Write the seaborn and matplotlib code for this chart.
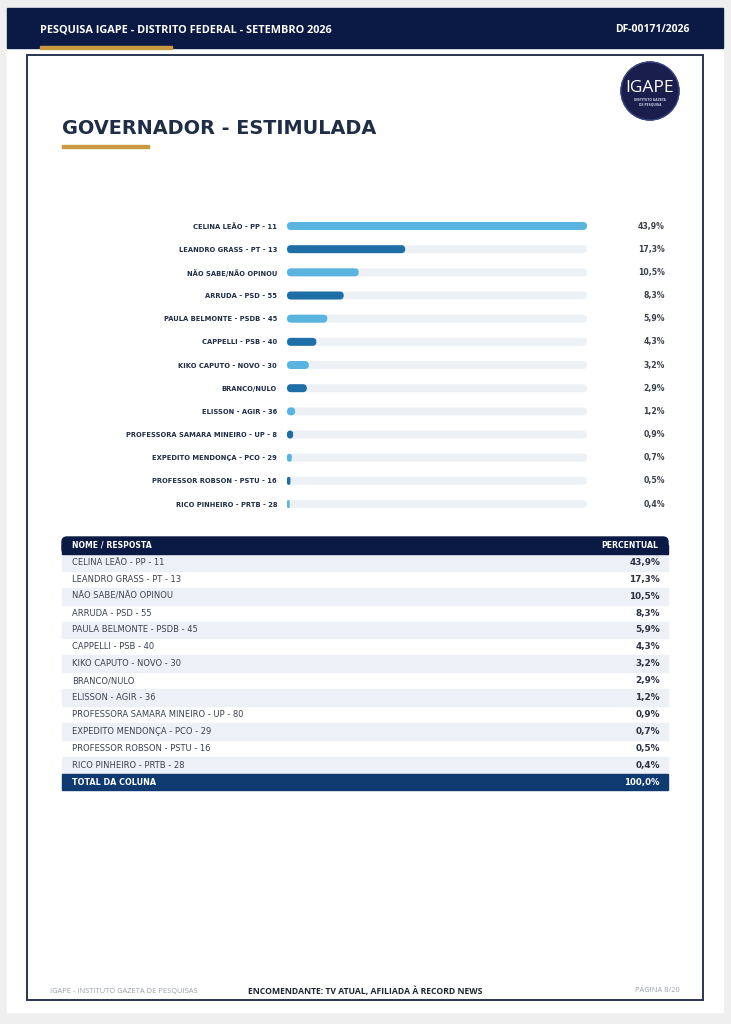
import pandas as pd
import seaborn as sns
import matplotlib.pyplot as plt
from matplotlib.patches import FancyBboxPatch, Rectangle, Circle
from matplotlib import transforms

# dados da pesquisa
nomes = ['CELINA LEÃO - PP - 11', 'LEANDRO GRASS - PT - 13', 'NÃO SABE/NÃO OPINOU',
         'ARRUDA - PSD - 55', 'PAULA BELMONTE - PSDB - 45', 'CAPPELLI - PSB - 40',
         'KIKO CAPUTO - NOVO - 30', 'BRANCO/NULO', 'ELISSON - AGIR - 36',
         'PROFESSORA SAMARA MINEIRO - UP - 8', 'EXPEDITO MENDONÇA - PCO - 29',
         'PROFESSOR ROBSON - PSTU - 16', 'RICO PINHEIRO - PRTB - 28']
nomes_tabela = ['CELINA LEÃO - PP - 11', 'LEANDRO GRASS - PT - 13', 'NÃO SABE/NÃO OPINOU',
                'ARRUDA - PSD - 55', 'PAULA BELMONTE - PSDB - 45', 'CAPPELLI - PSB - 40',
                'KIKO CAPUTO - NOVO - 30', 'BRANCO/NULO', 'ELISSON - AGIR - 36',
                'PROFESSORA SAMARA MINEIRO - UP - 80', 'EXPEDITO MENDONÇA - PCO - 29',
                'PROFESSOR ROBSON - PSTU - 16', 'RICO PINHEIRO - PRTB - 28']
percentual = [43.9, 17.3, 10.5, 8.3, 5.9, 4.3, 3.2, 2.9, 1.2, 0.9, 0.7, 0.5, 0.4]
total_coluna = 100.0

titulo = 'GOVERNADOR - ESTIMULADA'
cabecalho = 'PESQUISA IGAPE - DISTRITO FEDERAL - SETEMBRO 2026'
registro = 'DF-00171/2026'

# cores
NAVY = '#0b1a44'
AZUL_TOTAL = '#0f3a70'
AZUL_CLARO = '#5ab4e0'
AZUL_ESCURO = '#1e6ea8'
TRILHO = '#edf1f6'
LISTRA = '#edf1f7'
OURO = '#c99a3f'
TEXTO = '#1f2d45'


def fmt(v):
    return f'{v:.1f}%'.replace('.', ',')


sns.set_theme(style='white')
plt.rcParams['font.family'] = ['DejaVu Sans']

W, H = 731, 1024
fig = plt.figure(figsize=(W / 100, H / 100), dpi=100)
fig.patch.set_facecolor('#efefef')

# fundo em pixels
bg = fig.add_axes([0, 0, 1, 1])
bg.set_xlim(0, W)
bg.set_ylim(H, 0)
bg.axis('off')

bg.add_patch(Rectangle((7, 8), 716, 1004, color='white', zorder=0))
bg.add_patch(Rectangle((7, 8), 716, 40, color=NAVY, zorder=1))
bg.add_patch(Rectangle((40, 46), 132, 2.5, color=OURO, zorder=2))
bg.text(40, 30, cabecalho, color='white', fontsize=7.8, fontweight='bold',
        family='Open Sans', va='center', ha='left')
bg.text(690, 30, registro, color='white', fontsize=7.5, fontweight='bold',
        family='Open Sans', va='center', ha='right')

# moldura interna
bg.add_patch(Rectangle((27, 55), 676, 945, fill=False, edgecolor='#2a3555', lw=1.4, zorder=2))

# logo
bg.add_patch(Circle((650, 91), 29, color='#1a1e4d', zorder=3))
bg.add_patch(Circle((650, 91), 29, fill=False, edgecolor='#3b4a8a', lw=0.8, zorder=3))
bg.text(650, 88, 'IGAPE', color='white', fontsize=12.5, ha='center', va='center', zorder=4,
        family='Open Sans')
bg.text(650, 100, 'INSTITUTO GAZETA', color='#c8cce0', fontsize=2.2, ha='center',
        va='center', zorder=4, fontweight='bold')
bg.text(650, 104, 'DE PESQUISA', color='#c8cce0', fontsize=2.2, ha='center',
        va='center', zorder=4, fontweight='bold')

# titulo
bg.text(62, 128, titulo, color=TEXTO, fontsize=13.9, fontweight='bold', va='center', ha='left')
bg.add_patch(Rectangle((62, 144.5), 87, 3, color=OURO, zorder=2))

# grafico de barras
passo = 23.17
topo = 226 - passo / 2
n = len(nomes)
ax = fig.add_axes([287 / W, 1 - (topo + n * passo) / H, 300 / W, n * passo / H])
ax.patch.set_alpha(0)

df = pd.DataFrame({'nome': nomes, 'valor': percentual, 'trilho': max(percentual)})
cores = [AZUL_CLARO if i % 2 == 0 else AZUL_ESCURO for i in range(n)]
larg = 0.345
sns.barplot(data=df, x='trilho', y='nome', color=TRILHO, width=larg, ax=ax,
            saturation=1)
sns.barplot(data=df, x='valor', y='nome', hue='nome', palette=cores, legend=False,
            width=larg, ax=ax, saturation=1)
ax.set_xlim(0, max(percentual))
ax.set_ylim(n - 0.5, -0.5)
ax.set_xlabel('')
ax.set_ylabel('')
ax.set_xticks([])
sns.despine(ax=ax, left=True, bottom=True)
ax.tick_params(axis='y', length=0, pad=7.2, labelsize=4.9, labelcolor=TEXTO)
for t in ax.get_yticklabels():
    t.set_fontweight('bold')

# arredondar as pontas
ux = max(percentual) / 300
uy = 1 / passo
aspecto = uy / ux
for p in list(ax.patches):
    x, y, w, h = p.get_x(), p.get_y(), p.get_width(), p.get_height()
    if w <= 0:
        continue
    r = min(4 * ux, w / 2)
    novo = FancyBboxPatch((x, y), w, h, boxstyle=f'round,pad=0,rounding_size={r}',
                          mutation_aspect=aspecto, facecolor=p.get_facecolor(),
                          edgecolor='none', zorder=p.get_zorder())
    p.remove()
    ax.add_patch(novo)

trans = transforms.blended_transform_factory(fig.transFigure, ax.transData)
for i, v in enumerate(percentual):
    ax.text(665 / W, i, fmt(v), transform=trans, ha='right', va='center',
            fontsize=5.6, fontweight='bold', color='#3a3f4a', clip_on=False)

# tabela
tx0, tx1 = 62, 668
th0 = 537
alt = 16.9
bg.add_patch(FancyBboxPatch((tx0, th0), tx1 - tx0, alt, boxstyle='round,pad=0,rounding_size=5',
                            color=NAVY, zorder=2))
bg.add_patch(Rectangle((tx0, th0 + 8), tx1 - tx0, alt - 8, color=NAVY, zorder=2))
bg.text(72, th0 + alt / 2, 'NOME / RESPOSTA', color='white', fontsize=5.6,
        fontweight='bold', va='center', ha='left', zorder=3)
bg.text(658, th0 + alt / 2, 'PERCENTUAL', color='white', fontsize=5.6,
        fontweight='bold', va='center', ha='right', zorder=3)

for i, (nome, v) in enumerate(zip(nomes_tabela, percentual)):
    y = th0 + alt * (i + 1)
    if i % 2 == 0:
        bg.add_patch(Rectangle((tx0, y), tx1 - tx0, alt, color=LISTRA, zorder=1))
    bg.text(72, y + alt / 2, nome, color='#3b4250', fontsize=6, va='center', ha='left', zorder=3)
    bg.text(660, y + alt / 2, fmt(v), color='#2b3140', fontsize=6.4, fontweight='bold',
            va='center', ha='right', zorder=3)

yt = th0 + alt * (n + 1)
bg.add_patch(Rectangle((tx0, yt), tx1 - tx0, alt, color=AZUL_TOTAL, zorder=2))
bg.text(72, yt + alt / 2, 'TOTAL DA COLUNA', color='white', fontsize=5.8,
        fontweight='bold', va='center', ha='left', zorder=3)
bg.text(660, yt + alt / 2, fmt(total_coluna), color='white', fontsize=6.2,
        fontweight='bold', va='center', ha='right', zorder=3)

# rodape
bg.text(50, 991, 'IGAPE - INSTITUTO GAZETA DE PESQUISAS', color='#9aa0aa', fontsize=5.4,
        va='center', ha='left', family='Open Sans')
bg.text(365, 991, 'ENCOMENDANTE: TV ATUAL, AFILIADA À RECORD NEWS', color='#1f2430',
        fontsize=6.2, fontweight='bold', va='center', ha='center', family='Open Sans')
bg.text(680, 991, 'PÁGINA 8/20', color='#9aa0aa', fontsize=5.4, va='center', ha='right',
        family='Open Sans')

fig.savefig('out.png', dpi=100, facecolor=fig.get_facecolor())
